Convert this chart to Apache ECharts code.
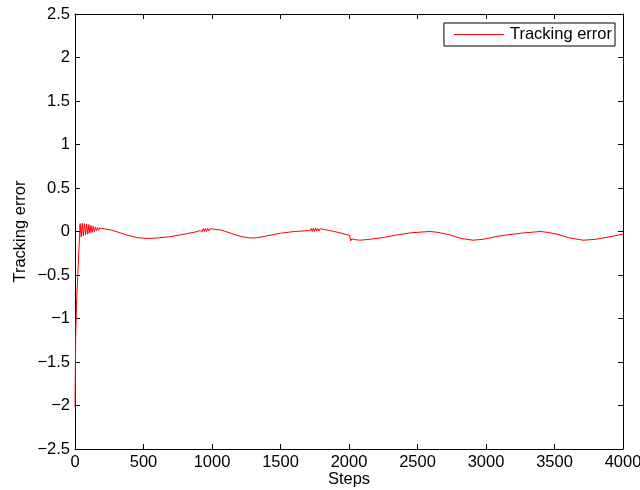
<!DOCTYPE html>
<html>
<head>
<meta charset="utf-8">
<script src="https://cdn.jsdelivr.net/npm/echarts@6/dist/echarts.min.js"></script>
<style>
  html, body { margin: 0; padding: 0; background: #fff; }
  #chart { width: 640px; height: 490px; }
</style>
</head>
<body>
<div id="chart"></div>
<script>
// tracking error
const steps = [
  0, 5, 12, 22, 33,
  37, 45, 53, 61, 69, 77, 85, 93, 101, 109, 117, 125, 133, 141, 149, 157, 165, 173, 181, 189, 197, 205, 215, 233,
  255, 300, 377, 450, 523, 600, 693, 800, 880,
  912, 920, 928, 936, 944, 952, 960, 968, 976, 984, 992, 1000, 1010, 1020, 1037,
  1058, 1100, 1155, 1220, 1277, 1340, 1399, 1500, 1600, 1700,
  1716, 1724, 1732, 1740, 1748, 1756, 1764, 1772, 1780, 1788, 1796, 1806, 1816, 1830,
  1861, 1920, 1970, 2005, 2012, 2020, 2050, 2080, 2150, 2248, 2350, 2450, 2591, 2650,
  2737, 2820, 2905, 2980, 3102, 3250, 3394, 3450, 3518, 3600, 3708, 3800, 3905, 4000
]
const trackingError = [
  -2.02, -1.2, -0.78, -0.45, -0.05,
  0.09, -0.06, 0.095, -0.05, 0.09, -0.04, 0.085, -0.03, 0.08, -0.02, 0.07, -0.01, 0.06, 0.0, 0.05, 0.01, 0.045, 0.015, 0.04, 0.02, 0.035, 0.022, 0.03, 0.025,
  0.02, 0.0, -0.04, -0.07, -0.08, -0.075, -0.06, -0.03, -0.005,
  0.01, 0.03, 0.0, 0.035, 0.0, 0.035, 0.0, 0.035, 0.005, 0.03, 0.01, 0.03, 0.015, 0.025, 0.02,
  0.02, 0.0, -0.03, -0.06, -0.075, -0.07, -0.05, -0.02, 0.0, 0.01,
  0.01, 0.035, 0.0, 0.04, 0.0, 0.04, 0.005, 0.035, 0.005, 0.03, 0.01, 0.028, 0.015, 0.02,
  0.01, -0.01, -0.03, -0.045, -0.11, -0.085, -0.095, -0.1, -0.09, -0.07, -0.04, -0.015, 0.0, -0.01,
  -0.04, -0.08, -0.1, -0.09, -0.05, -0.02, 0.0, -0.01, -0.03, -0.07, -0.1, -0.09, -0.06, -0.03
]

const font = 'Liberation Sans, Arial, Helvetica, sans-serif'
const fs = 16.5
const fmt = v => String(v).replace('-', '\u2212')

const chart = echarts.init(document.getElementById('chart'))

const frameAxis = {
  axisLine: { show: true, onZero: false, lineStyle: { color: '#000', width: 1 } },
  axisTick: { show: true, inside: true, length: 5, lineStyle: { color: '#000' } },
  splitLine: { show: false }
}

chart.setOption({
  animation: false,
  backgroundColor: '#fff',
  textStyle: { fontFamily: font },
  grid: { left: 75, right: 17, top: 14, bottom: 41, outerBoundsMode: 'none', containLabel: false },
  legend: {
    right: 25,
    top: 23,
    padding: [3, 3, 3, 10],
    borderColor: '#000',
    borderWidth: 1,
    backgroundColor: '#fff',
    icon: 'rect',
    itemWidth: 50,
    itemHeight: 1,
    itemStyle: { color: '#ff0000' },
    textStyle: { fontSize: fs, color: '#000', fontFamily: font, padding: [0, 0, 0, 1] },
    data: ['Tracking error']
  },
  xAxis: [
    {
      type: 'value', min: 0, max: 4000, interval: 500,
      name: 'Steps', nameLocation: 'middle', nameGap: 22, nameMoveOverlap: false,
      nameTextStyle: { fontSize: fs, color: '#000', fontFamily: font },
      axisLabel: { fontSize: fs, color: '#000', margin: 5, formatter: fmt, fontFamily: font },
      ...frameAxis
    },
    {
      type: 'value', min: 0, max: 4000, interval: 500, position: 'top',
      axisLabel: { show: false },
      ...frameAxis
    }
  ],
  yAxis: [
    {
      type: 'value', min: -2.5, max: 2.5, interval: 0.5,
      name: 'Tracking error', nameLocation: 'middle', nameGap: 46, nameMoveOverlap: false,
      nameTextStyle: { fontSize: fs, color: '#000', fontFamily: font },
      axisLabel: { fontSize: fs, color: '#000', margin: 5, formatter: fmt, fontFamily: font },
      ...frameAxis
    },
    {
      type: 'value', min: -2.5, max: 2.5, interval: 0.5, position: 'right',
      axisLabel: { show: false },
      ...frameAxis
    }
  ],
  series: [
    {
      name: 'Tracking error',
      type: 'line',
      symbol: 'none',
      data: steps.map((s, i) => [s, trackingError[i]]),
      lineStyle: { color: '#ff0000', width: 1 },
      itemStyle: { color: '#ff0000' }
    }
  ]
})
</script>
</body>
</html>
